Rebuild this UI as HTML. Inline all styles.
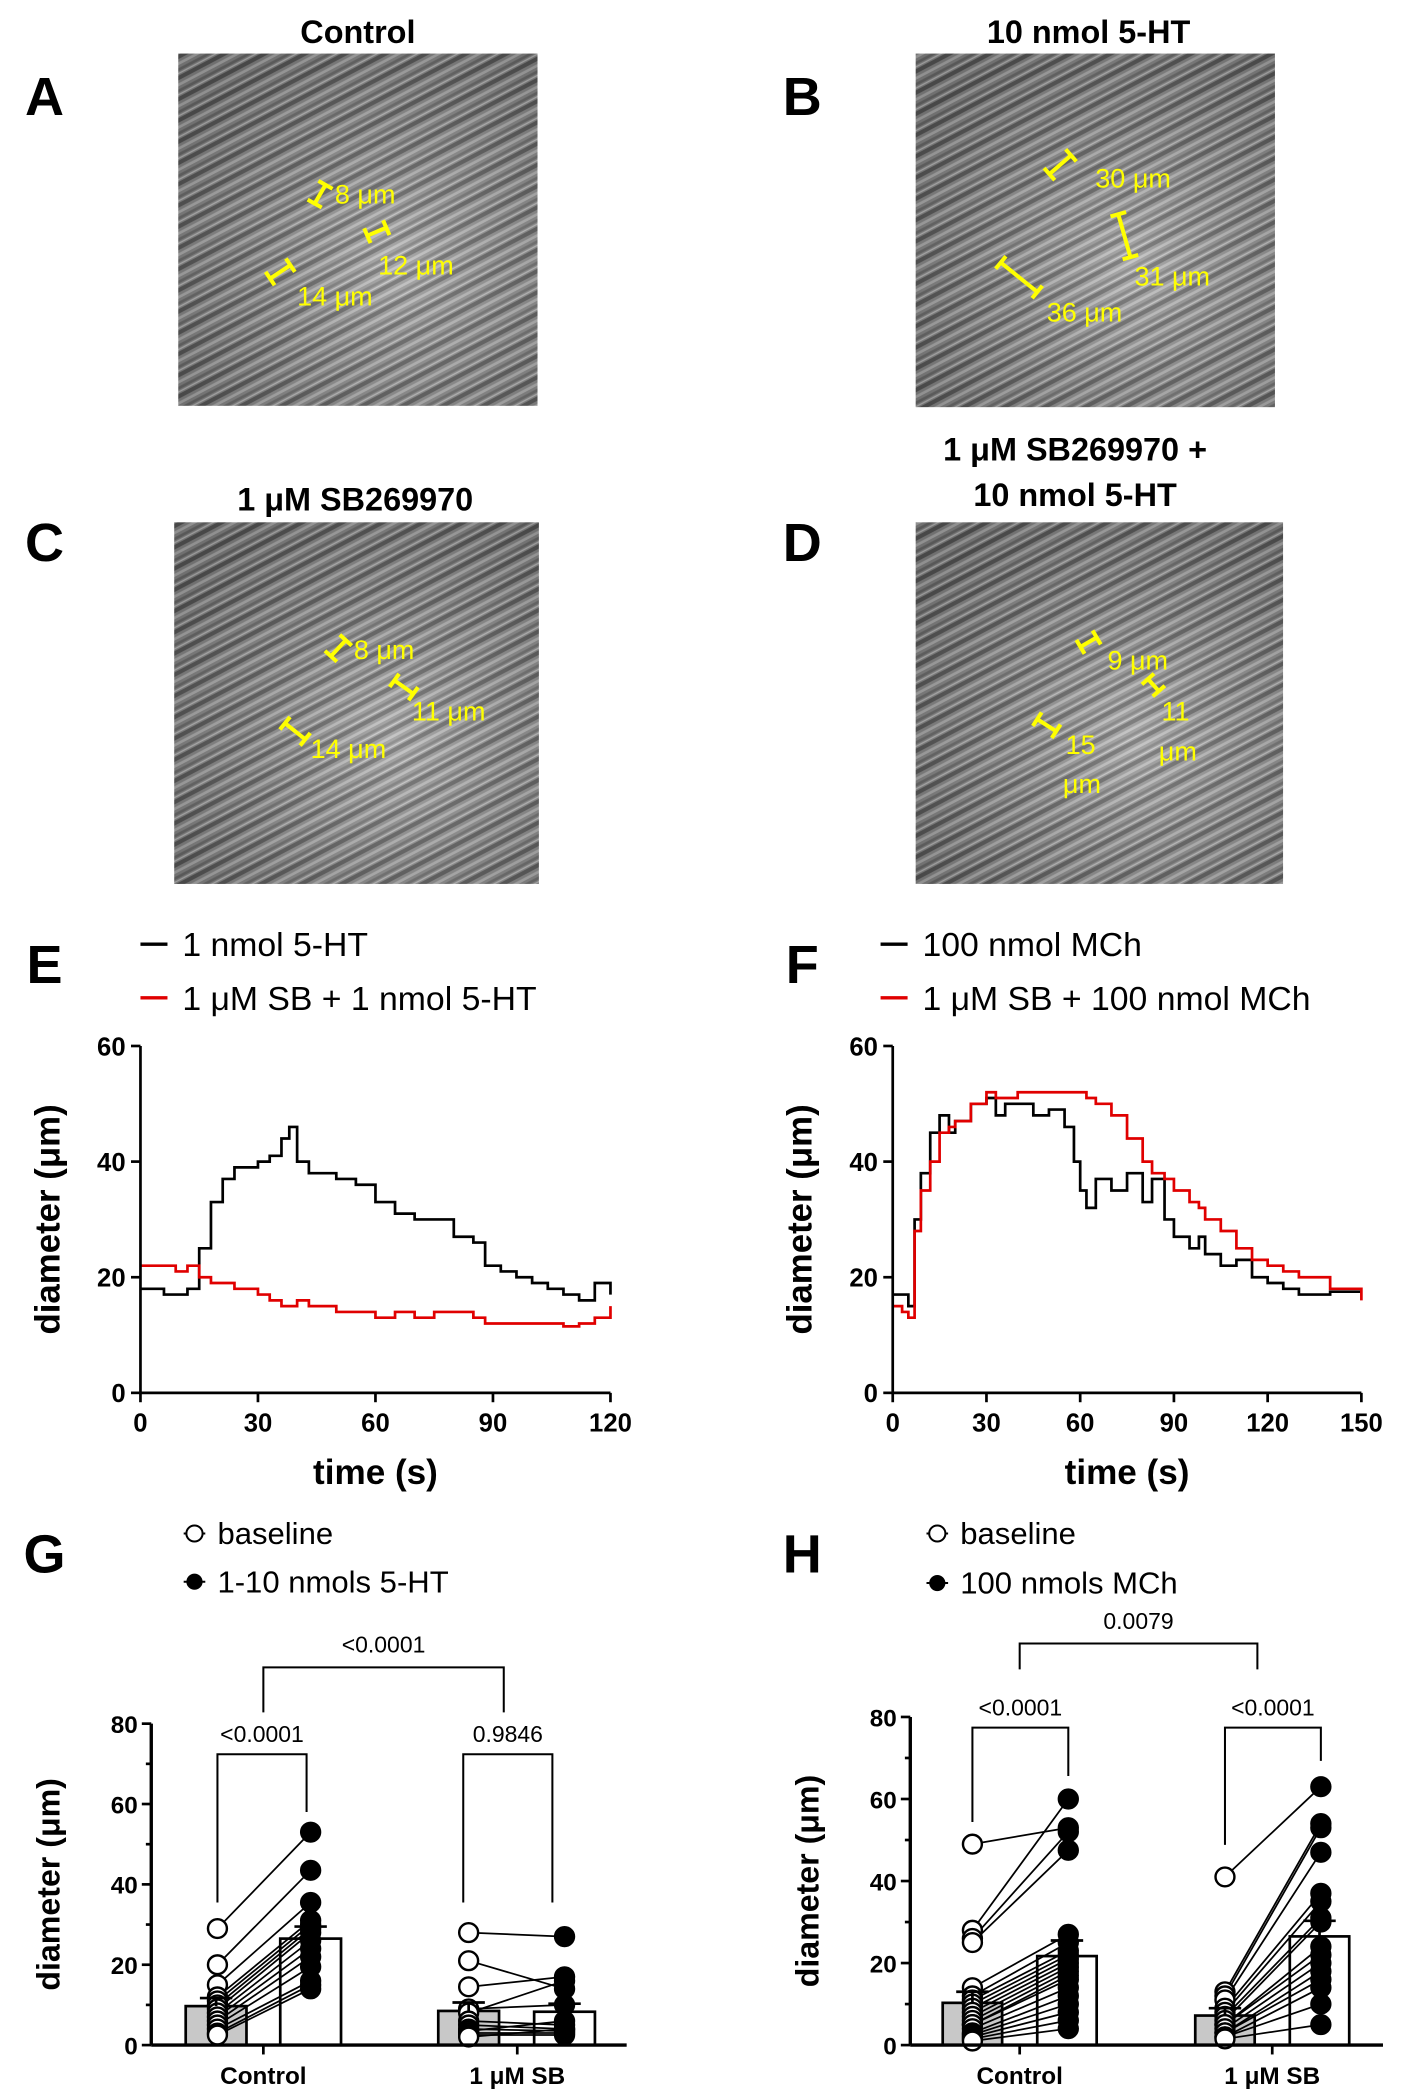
<!DOCTYPE html>
<html><head><meta charset="utf-8"><style>
html,body{margin:0;padding:0;background:#fff}
svg{display:block}
text{font-family:"Liberation Sans",Arial,sans-serif}
</style></head><body>
<svg id="fig" xmlns="http://www.w3.org/2000/svg" width="1410" height="2100" viewBox="0 0 1044 1568" preserveAspectRatio="none">
<defs>
<pattern id="tex" patternUnits="userSpaceOnUse" width="40" height="14" patternTransform="rotate(-28)">
<rect width="40" height="14" fill="#8c8c8c"/>
<rect y="0" width="40" height="3" fill="#5a5a5a"/>
<rect y="5" width="40" height="2" fill="#b4b4b4"/>
<rect y="9" width="40" height="2" fill="#6e6e6e"/>
<rect y="12" width="40" height="1" fill="#c2c2c2"/>
</pattern>
<radialGradient id="shade" cx="0.6" cy="0.6" r="0.7">
<stop offset="0" stop-color="#fff" stop-opacity="0.25"/>
<stop offset="1" stop-color="#000" stop-opacity="0.2"/>
</radialGradient>
</defs>
<g id="root"></g>
</svg>
<script>
// ===== Time-course data (panel E) =====
const eTimes = [0,3,6,9,12,15,18,21,24,27,30,33,36,38,40,43,46,50,55,60,65,70,75,80,85,88,92,96,100,104,108,112,116,120];
const eBlack = [18,18,17,17,18,25,33,37,39,39,40,41,44,46,40,38,38,37,36,33,31,30,30,27,26,22,21,20,19,18,17,16,19,17];
const eRed   = [22,22,22,21,22,20,19,19,18,18,17,16,15,15,16,15,15,14,14,13,14,13,14,14,13,12,12,12,12,12,11.5,12,13,15];
// ===== Time-course data (panel F) =====
const fTimes = [0,3,5,7,9,12,15,18,20,25,30,33,36,40,45,50,55,58,60,62,65,70,75,80,83,87,90,95,98,100,105,110,115,120,125,130,140,150];
const fBlack = [17,17,15,30,38,45,48,45,47,50,51,48,50,50,48,49,46,40,35,32,37,35,38,33,37,30,27,25,27,24,22,23,20,19,18,17,17.5,17.5];
const fRed   = [15,14,13,28,35,40,45,46,47,50,52,51,51,52,52,52,52,52,52,51,50,48,44,40,38,37,35,33,32,30,28,25,23,22,21,20,18,16];
const eTicksX = [0,30,60,90,120];
const fTicksX = [0,30,60,90,120,150];
const tcTicksY = [0,20,40,60];
// ===== Paired data (panel G) =====
const gCtlBase = [29,20,15,12,11,10,9,8,7,6,5,4,3,2.5];
const gCtlResp = [53,43.5,35.5,31,30,29,28,26,24,22,19.5,16,15,14];
const gSbBase  = [28,21,14.5,9,8,6,5,4,3.5,3,2.5,2];
const gSbResp  = [27,14,17,10,16,5,4,3.5,6,3,2.5,4];
const gMeans = [9.7,26.5,8.5,8.3];
const gErr   = [11.7,29.5,10.6,10.3];
// ===== Paired data (panel H) =====
const hCtlBase = [49,28,26,25,14,12,11,10,9,8,7,6,5,5,4,3,2.5,2,1.5,1];
const hCtlResp = [53,60,52,47.5,27,25,23,22,21,20,19,18,17,16,14,12,10,8,6,4];
const hSbBase  = [41,13,12,11,9,8,7,6,5,5,4,3,3,2,2,1.5];
const hSbResp  = [63,54,53,47,37,35,31,30,24,22,20,18,16,14,10,5];
const hMeans = [10.3,21.7,7.2,26.5];
const hErr   = [13,25.5,9,30.3];
const barTicksY = [0,20,40,60,80];

const NS="http://www.w3.org/2000/svg";
const root=document.getElementById('root');
function el(tag,attrs,parent){const e=document.createElementNS(NS,tag);for(const k in attrs)e.setAttribute(k,attrs[k]);(parent||root).appendChild(e);return e;}
function txt(x,y,s,size,opts,parent){opts=opts||{};const t=el('text',{x:x,y:y,'font-size':size,'text-anchor':opts.anchor||'middle','font-weight':opts.bold?'bold':'normal',fill:opts.fill||'#000'},parent);if(opts.rot)t.setAttribute('transform','rotate(-90 '+x+' '+y+')');t.textContent=s;return t;}

// panel letters
[['A',33,86],['B',594,86],['C',33,419],['D',594,419],['E',33,734],['F',594,734],['G',33,1174],['H',594,1174]].forEach(p=>{
 const t=txt(p[1],p[2],p[0],40,{bold:true});
 
 
});

// micrographs
function micro(x,y,w,h,name,title,titleX,titleY,ann){
 const g=el('g',{});
 
 
 el('rect',{x:x,y:y,width:w,height:h,fill:'url(#tex)'},g);
 el('rect',{x:x,y:y,width:w,height:h,fill:'url(#shade)'},g);
 title.forEach((s,i)=>{const t=txt(titleX,titleY+i*34,s,24,{bold:true},g);});
 ann.forEach(a=>{
  el('line',{x1:a[0],y1:a[1],x2:a[2],y2:a[3],stroke:'#ffff00','stroke-width':3},g);
  const dx=a[2]-a[0],dy=a[3]-a[1],L=Math.hypot(dx,dy),px=-dy/L*6,py=dx/L*6;
  el('line',{x1:a[0]-px,y1:a[1]-py,x2:a[0]+px,y2:a[1]+py,stroke:'#ffff00','stroke-width':3},g);
  el('line',{x1:a[2]-px,y1:a[3]-py,x2:a[2]+px,y2:a[3]+py,stroke:'#ffff00','stroke-width':3},g);
  const t=txt(a[4],a[5],a[6],20,{anchor:'start',fill:'#ffff00'},g);
  
 });
}
micro(132,40,266,263,'image-control',['Control'],265,32,[[233,152,241,138,248,152,'8 μm'],[272,176,286,170,280,205,'12 μm'],[200,208,215,198,220,228,'14 μm']]);
micro(678,40,266,264,'image-5ht',['10 nmol 5-HT'],806,32,[[777,130,793,116,811,140,'30 μm'],[828,160,837,192,840,213,'31 μm'],[741,196,768,218,775,240,'36 μm']]);
micro(129,390,270,270,'image-sb',['1 μM SB269970'],263,381,[[245,490,256,478,262,492,'8 μm'],[292,508,306,518,305,538,'11 μm'],[211,540,226,552,230,566,'14 μm']]);
micro(678,390,272,270,'image-sb-5ht',['1 μM SB269970 +','10 nmol 5-HT'],796,344,[[800,483,812,476,820,500,'9 μm'],[850,507,858,516,860,538,'11'],[768,537,782,546,789,563,'15']]);
txt(858,568,'μm',20,{anchor:'start',fill:'#ffff00'});
txt(787,592,'μm',20,{anchor:'start',fill:'#ffff00'});

// time-course charts
function timeChart(opt){
 const g=el('g',{});
 
 
 const X=v=>opt.x0+(v-opt.xmin)/(opt.xmax-opt.xmin)*(opt.x1-opt.x0);
 const Y=v=>opt.y0-(v/60)*(opt.y0-opt.y1);
 function stepPath(ts,vs){let d='M'+X(ts[0])+' '+Y(vs[0]);for(let i=1;i<ts.length;i++){d+=' H'+X(ts[i])+' V'+Y(vs[i]);}return d;}
 const pb=el('path',{d:stepPath(opt.t,opt.b),fill:'none',stroke:'#000','stroke-width':2},g);
 
 const pr=el('path',{d:stepPath(opt.t,opt.r),fill:'none',stroke:'#e00000','stroke-width':2},g);
 
 el('line',{x1:opt.x0,y1:opt.y0,x2:opt.x1,y2:opt.y0,stroke:'#000','stroke-width':2},g);
 el('line',{x1:opt.x0,y1:opt.y0,x2:opt.x0,y2:opt.y1,stroke:'#000','stroke-width':2},g);
 opt.ticksX.forEach(v=>{el('line',{x1:X(v),y1:opt.y0,x2:X(v),y2:opt.y0+7,stroke:'#000','stroke-width':2},g);const t=txt(X(v),opt.y0+29,String(v),19,{bold:true},g);});
 tcTicksY.forEach(v=>{el('line',{x1:opt.x0-7,y1:Y(v),x2:opt.x0,y2:Y(v),stroke:'#000','stroke-width':2},g);const t=txt(opt.x0-11,Y(v)+7,String(v),19,{bold:true,anchor:'end'},g);});
 const xt=txt((opt.x0+opt.x1)/2,opt.y0+68,'time (s)',26,{bold:true},g);
 const yt=txt(opt.x0-60,(opt.y0+opt.y1)/2,'diameter (μm)',26,{bold:true,rot:true},g);
 const lx=opt.legX;
 el('line',{x1:lx,y1:705,x2:lx+20,y2:705,stroke:'#000','stroke-width':2.5},g);
 const l1=txt(lx+31,714,opt.l1,25,{anchor:'start'},g);
 el('line',{x1:lx,y1:745,x2:lx+20,y2:745,stroke:'#e00000','stroke-width':2.5},g);
 const l2=txt(lx+31,754,opt.l2,25,{anchor:'start'},g);
}
timeChart({name:'chart-e',x0:104,x1:452,y0:1040,y1:781,xmin:0,xmax:120,t:eTimes,b:eBlack,r:eRed,ticksX:eTicksX,legX:104,l1:'1 nmol 5-HT',l2:'1 μM SB + 1 nmol 5-HT'});
timeChart({name:'chart-f',x0:661,x1:1008,y0:1040,y1:781,xmin:0,xmax:150,t:fTimes,b:fBlack,r:fRed,ticksX:fTicksX,legX:652,l1:'100 nmol MCh',l2:'1 μM SB + 100 nmol MCh'});

// paired bar charts
function barChart(o){
 const g=el('g',{});
 
 
 const Y=v=>o.y0-v/80*(o.y0-o.y80);
 const bw=o.bw;
 const bars=[[o.c1b,'#c8c8c8'],[o.c1r,'#fff'],[o.c2b,'#c8c8c8'],[o.c2r,'#fff']];
 bars.forEach((b,i)=>{
  const r=el('rect',{x:b[0]-bw/2,y:Y(o.means[i]),width:bw,height:o.y0-Y(o.means[i]),fill:b[1],stroke:'#000','stroke-width':2},g);
  
  
 });
 function pairs(bx,rx,bs,rs){
  bs.forEach((v,i)=>{el('line',{x1:bx,y1:Y(v),x2:rx,y2:Y(rs[i]),stroke:'#000','stroke-width':1.3},g);});
  bs.forEach(v=>{const c=el('circle',{cx:bx,cy:Y(v),r:7,fill:'#fff',stroke:'#000','stroke-width':1.8},g);});
  rs.forEach(v=>{const c=el('circle',{cx:rx,cy:Y(v),r:7,fill:'#000',stroke:'#000','stroke-width':1.8},g);});
 }
 pairs(o.p1b,o.p1r,o.d[0],o.d[1]);
 pairs(o.p2b,o.p2r,o.d[2],o.d[3]);
 bars.forEach((b,i)=>{
  el('line',{x1:b[0],y1:Y(o.means[i]),x2:b[0],y2:Y(o.err[i]),stroke:'#000','stroke-width':2},g);
  el('line',{x1:b[0]-12,y1:Y(o.err[i]),x2:b[0]+12,y2:Y(o.err[i]),stroke:'#000','stroke-width':2},g);
 });
 el('line',{x1:o.x0,y1:o.y0,x2:o.x1,y2:o.y0,stroke:'#000','stroke-width':2.5},g);
 el('line',{x1:o.x0,y1:o.y0,x2:o.x0,y2:Y(80),stroke:'#000','stroke-width':2.5},g);
 [0,10,20,30,40,50,60,70,80].forEach(v=>{el('line',{x1:o.x0-(v%20?4:7),y1:Y(v),x2:o.x0,y2:Y(v),stroke:'#000','stroke-width':2},g);});
 barTicksY.forEach(v=>{const t=txt(o.x0-10,Y(v)+7,String(v),18,{bold:true,anchor:'end'},g);});
 [[o.g1,'Control'],[o.g2,'1 μM SB']].forEach(c=>{el('line',{x1:c[0],y1:o.y0,x2:c[0],y2:o.y0+7,stroke:'#000','stroke-width':2},g);const t=txt(c[0],o.y0+29,c[1],18,{bold:true},g);});
 const yt=txt(o.x0-68,Y(40),'diameter (μm)',24,{bold:true,rot:true},g);
 o.brackets.forEach(b=>{
  el('path',{d:'M'+b[0]+' '+Y(b[3])+' V'+Y(b[2])+' H'+b[1]+' V'+Y(b[4]),fill:'none',stroke:'#000','stroke-width':1.5},g);
  const t=txt((b[0]+b[1])/2,Y(b[2])-b[6],b[5],17,{},g);
 });
 const lx=o.legX;
 el('line',{x1:lx-8,y1:1145,x2:lx+8,y2:1145,stroke:'#000','stroke-width':1.5},g);
 el('circle',{cx:lx,cy:1145,r:6,fill:'#fff',stroke:'#000','stroke-width':1.5},g);
 const a=txt(lx+17,1153,'baseline',23,{anchor:'start'},g);
 el('line',{x1:lx-8,y1:o.legY2,x2:lx+8,y2:o.legY2,stroke:'#000','stroke-width':1.5},g);
 el('circle',{cx:lx,cy:o.legY2,r:6,fill:'#000'},g);
 const b=txt(lx+17,o.legY2+8,o.legend2,23,{anchor:'start'},g);
}
barChart({name:'chart-g',x0:112,x1:464,y0:1527,y80:1287,bw:45,c1b:160,c1r:230,c2b:347,c2r:418,p1b:161,p1r:230,p2b:347,p2r:418,g1:195,g2:383,
 d:[gCtlBase,gCtlResp,gSbBase,gSbResp],means:gMeans,err:gErr,
 brackets:[[161,227,72.4,35.5,58,'<0.0001',9],[195,373,94,82.8,82.8,'<0.0001',11],[343,409,72.4,35.5,35.5,'0.9846',9]],
 legX:144,legY2:1181,legend2:'1-10 nmols 5-HT'});
barChart({name:'chart-h',x0:674,x1:1024,y0:1527,y80:1282,bw:44,c1b:720,c1r:790,c2b:907,c2r:977,p1b:720,p1r:791,p2b:907,p2r:978,g1:755,g2:942,
 d:[hCtlBase,hCtlResp,hSbBase,hSbResp],means:hMeans,err:hErr,
 brackets:[[720,791,77.4,54.4,65.6,'<0.0001',9],[755,931,97.9,91.6,91.6,'0.0079',11],[907,978,77.4,48.8,69.3,'<0.0001',9]],
 legX:694,legY2:1182,legend2:'100 nmols MCh'});
</script>
</body></html>
